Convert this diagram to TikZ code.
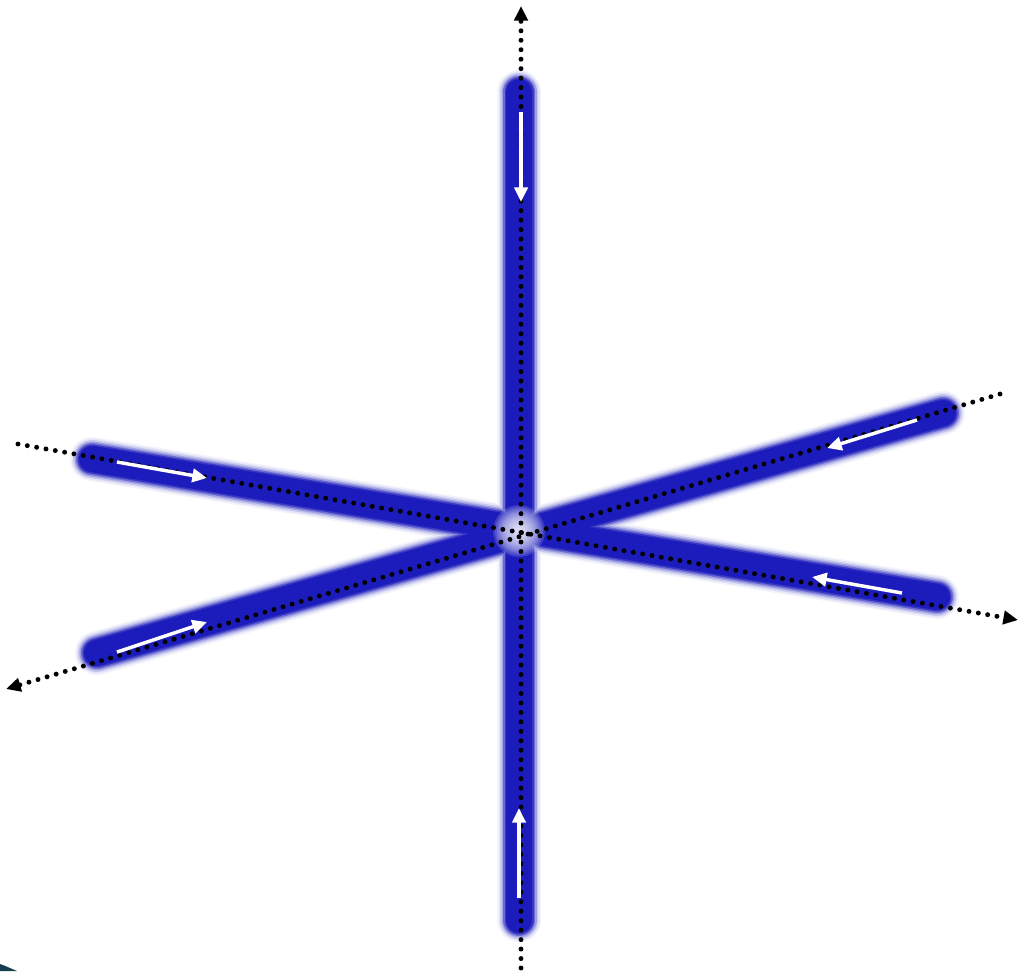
\documentclass[tikz,border=0pt]{standalone}
\usetikzlibrary{arrows.meta}
\definecolor{barblue}{RGB}{28,28,188}
\definecolor{cornerteal}{RGB}{22,62,78}
\tikzset{
  dotline/.style={line width=3.7pt, line cap=round, dash pattern=on 0pt off 7.1pt, black,
    -{Triangle[length=11pt,width=10pt]}},
  whitearrow/.style={line width=2.6pt, white, -{Triangle[length=11pt,width=10pt]}},
}
\begin{document}
\begin{tikzpicture}[x=0.75pt,y=-0.75pt]
\useasboundingbox (0,0) rectangle (1019,971);
\fill[white] (0,0) rectangle (1019,971);
% bar end points
\coordinate (vt) at (519,92);
\coordinate (vb) at (519,920);
\coordinate (ul) at (92,459);
\coordinate (lr) at (937,597);
\coordinate (ur) at (943,413);
\coordinate (ll) at (97,653);
\coordinate (c) at (519,531);
% glowing bars, layer by layer
\foreach \w/\pc in {44/5, 41/12, 38/24, 35/42, 32/65, 29/88, 26/100}{
  \foreach \a/\b in {vt/vb, ul/lr, ur/ll}{
    \draw[barblue!\pc!white, line width=\w*0.75pt, line cap=round] (\a) -- (\b);
  }
}
% soft white glow at the centre
\foreach \r in {26,24,...,4}{
  \fill[white, opacity=0.14] (c) circle[radius=\r];
}
% dotted axes
\coordinate (dvs) at (521,968);
\coordinate (dve) at (521,6);
\coordinate (d2s) at (18,444);
\coordinate (d2e) at (1018,620);
\coordinate (d3s) at (1000,394);
\coordinate (d3e) at (6,689);
\draw[dotline] (dvs) -- (dve);
\draw[dotline] (d2s) -- (d2e);
\draw[dotline] (d3s) -- (d3e);
% white arrows
\coordinate (a1s) at (521,112); \coordinate (a1e) at (521,202);
\coordinate (a2s) at (519,898); \coordinate (a2e) at (519,808);
\coordinate (a3s) at (117,462); \coordinate (a3e) at (207,478);
\coordinate (a4s) at (117,652); \coordinate (a4e) at (207,622);
\coordinate (a5s) at (917,420); \coordinate (a5e) at (827,448);
\coordinate (a6s) at (902,593); \coordinate (a6e) at (812,577);
\foreach \s/\e in {a1s/a1e, a2s/a2e, a3s/a3e, a4s/a4e, a5s/a5e, a6s/a6e}{
  \draw[whitearrow] (\s) -- (\e);
}
% corner fragment
\fill[cornerteal] (0,964) .. controls (6,966) and (12,969) .. (17,971) -- (0,971) -- cycle;
\end{tikzpicture}
\end{document}
